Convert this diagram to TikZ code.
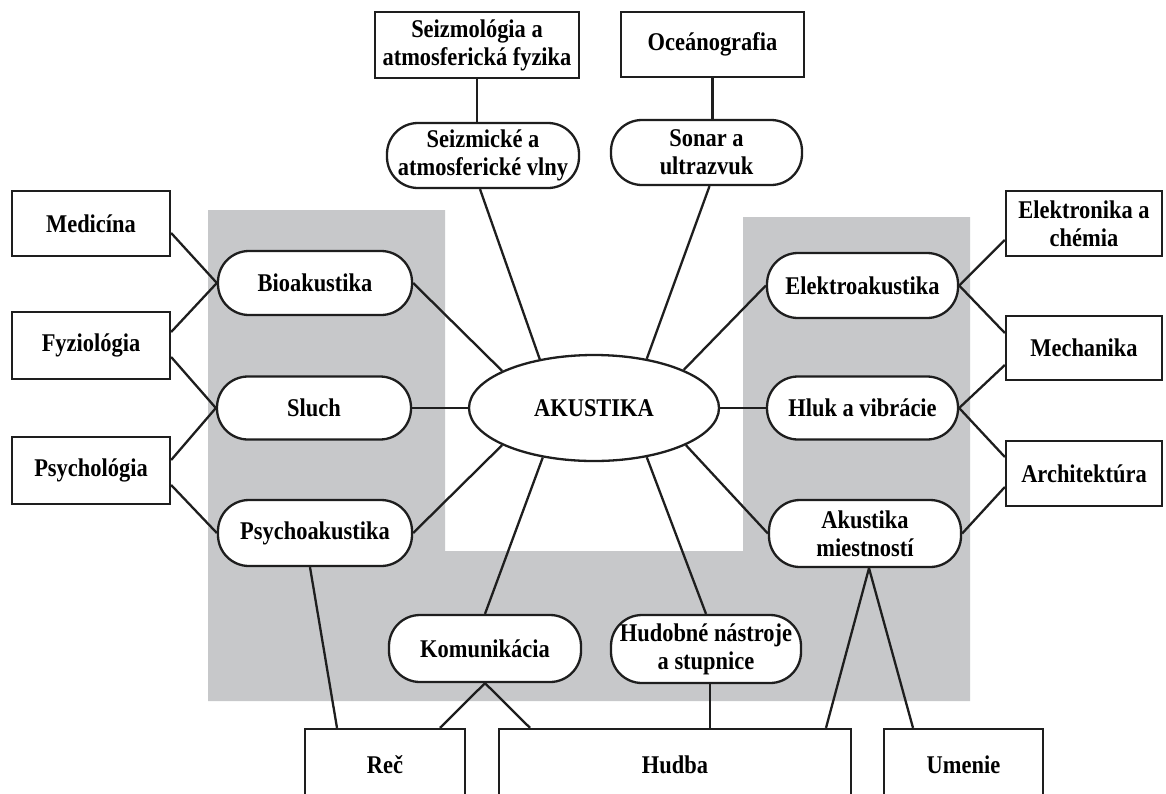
\documentclass[tikz,border=0pt]{standalone}
\usepackage{fontspec}
\setmainfont{Liberation Serif}[FakeStretch=0.88]
\usetikzlibrary{shapes.geometric}
\definecolor{greybg}{RGB}{199,200,202}
\definecolor{ink}{RGB}{30,30,30}
\begin{document}
\begin{tikzpicture}[x=1pt,y=-1pt,
  base/.style={draw=ink, line width=2.3pt, fill=white, inner sep=0pt, text=black,
    font=\fontsize{25.5}{28}\selectfont\bfseries, align=center},
  field/.style 2 args={base, rectangle, minimum width=#1pt, minimum height=#2pt},
  pill/.style 2 args={base, rectangle, rounded corners=31pt, minimum width=#1pt, minimum height=#2pt},
  conn/.style={draw=ink, line width=2.3pt}]
\useasboundingbox (0,0) rectangle (1166,793);
\clip (0,0) rectangle (1166,793);
\fill[white] (0,0) rectangle (1166,793);
\fill[greybg] (208,210) -- (445,210) -- (445,551) -- (743,551) -- (743,217) -- (970,217) -- (970,701) -- (208,701) -- cycle;

% outer fields
\node[field={204}{66}] (seizmo) at (477,45) {Seizmológia a\\atmosferická fyzika};
\node[field={183}{65}] (ocean) at (712.5,44.5) {Oceánografia};
\node[field={158}{65}] (medic) at (91,223.5) {Medicína};
\node[field={158}{67}] (fyzio) at (91,345.5) {Fyziológia};
\node[field={158}{67}] (psychol) at (91,470.5) {Psychológia};
\node[field={156}{65}] (elektron) at (1084,223.5) {Elektronika a\\chémia};
\node[field={156}{64}] (mech) at (1084,348) {Mechanika};
\node[field={156}{65}] (arch) at (1084,473.5) {Architektúra};
\node[field={160}{71}] (rec) at (385,764.5) {Reč};
\node[field={352}{71}] (hudba) at (675,764.5) {Hudba};
\node[field={159}{71}] (umenie) at (963.5,764.5) {Umenie};

% branches
\node[pill={192}{65}] (seizv) at (483,155.5) {Seizmické a\\atmosferické vlny};
\node[pill={191}{65}] (sonar) at (706.5,152.5) {Sonar a\\ultrazvuk};
\node[pill={194}{64}] (bio) at (315,283) {Bioakustika};
\node[pill={194}{63}] (sluch) at (314,408) {Sluch};
\node[pill={194}{66}] (psychoa) at (315,533) {Psychoakustika};
\node[pill={191}{65}] (elektroa) at (862.5,285.5) {Elektroakustika};
\node[pill={191}{63}] (hluk) at (862.5,408) {Hluk a vibrácie};
\node[pill={192}{67}] (akmiest) at (865,533.5) {Akustika\\miestností};
\node[pill={192}{67}] (komun) at (485,648.5) {Komunikácia};
\node[pill={190}{68}] (hudobne) at (706,649) {Hudobné nástroje\\a stupnice};

% centre
\node[base, ellipse, minimum width=250pt, minimum height=106pt] (akustika) at (594,408) {AKUSTIKA};

% connectors to centre
\draw[conn] (seizmo.south) -- (seizmo.south |- seizv.north);
\draw[conn] (ocean.south) -- (ocean.south |- sonar.north);
\draw[conn] ([xshift=-3pt]seizv.south) -- (akustika.138);
\draw[conn] (bio.east) -- (akustika.158);
\draw[conn] ([xshift=3pt]sonar.south) -- (akustika.43);
\draw[conn] (elektroa.west) -- (akustika.23);
\draw[conn] (sluch.east) -- (akustika.west);
\draw[conn] (hluk.west) -- (akustika.east);
\draw[conn] (psychoa.east) -- (akustika.202);
\draw[conn] (komun.north) -- (akustika.224);
\draw[conn] (hudobne.north) -- (akustika.317);
\draw[conn] (akmiest.west) -- (akustika.338);

% connectors to outer fields
\draw[conn] ([yshift=-9.5pt]medic.east) -- (bio.west);
\draw[conn] ([yshift=13.5pt]fyzio.east) -- (bio.west);
\draw[conn] ([yshift=-11.5pt]fyzio.east) -- (sluch.west);
\draw[conn] ([yshift=10.5pt]psychol.east) -- (sluch.west);
\draw[conn] ([yshift=-14.5pt]psychol.east) -- (psychoa.west);
\draw[conn] (elektroa.east) -- ([yshift=-16.5pt]elektron.west);
\draw[conn] (elektroa.east) -- ([yshift=15pt]mech.west);
\draw[conn] (hluk.east) -- ([yshift=-17pt]mech.west);
\draw[conn] (hluk.east) -- ([yshift=16.5pt]arch.west);
\draw[conn] (akmiest.east) -- ([yshift=-13.5pt]arch.west);
\draw[conn] ([xshift=-5pt]psychoa.south) -- ([xshift=-48pt]rec.north);
\draw[conn] (komun.south) -- ([xshift=55pt]rec.north);
\draw[conn] (komun.south) -- ([xshift=-145pt]hudba.north);
\draw[conn] ([xshift=4pt]hudobne.south) -- ([xshift=35pt]hudba.north);
\draw[conn] ([xshift=4pt]akmiest.south) -- ([xshift=151pt]hudba.north);
\draw[conn] ([xshift=4pt]akmiest.south) -- ([xshift=-50.5pt]umenie.north);
\end{tikzpicture}
\end{document}
